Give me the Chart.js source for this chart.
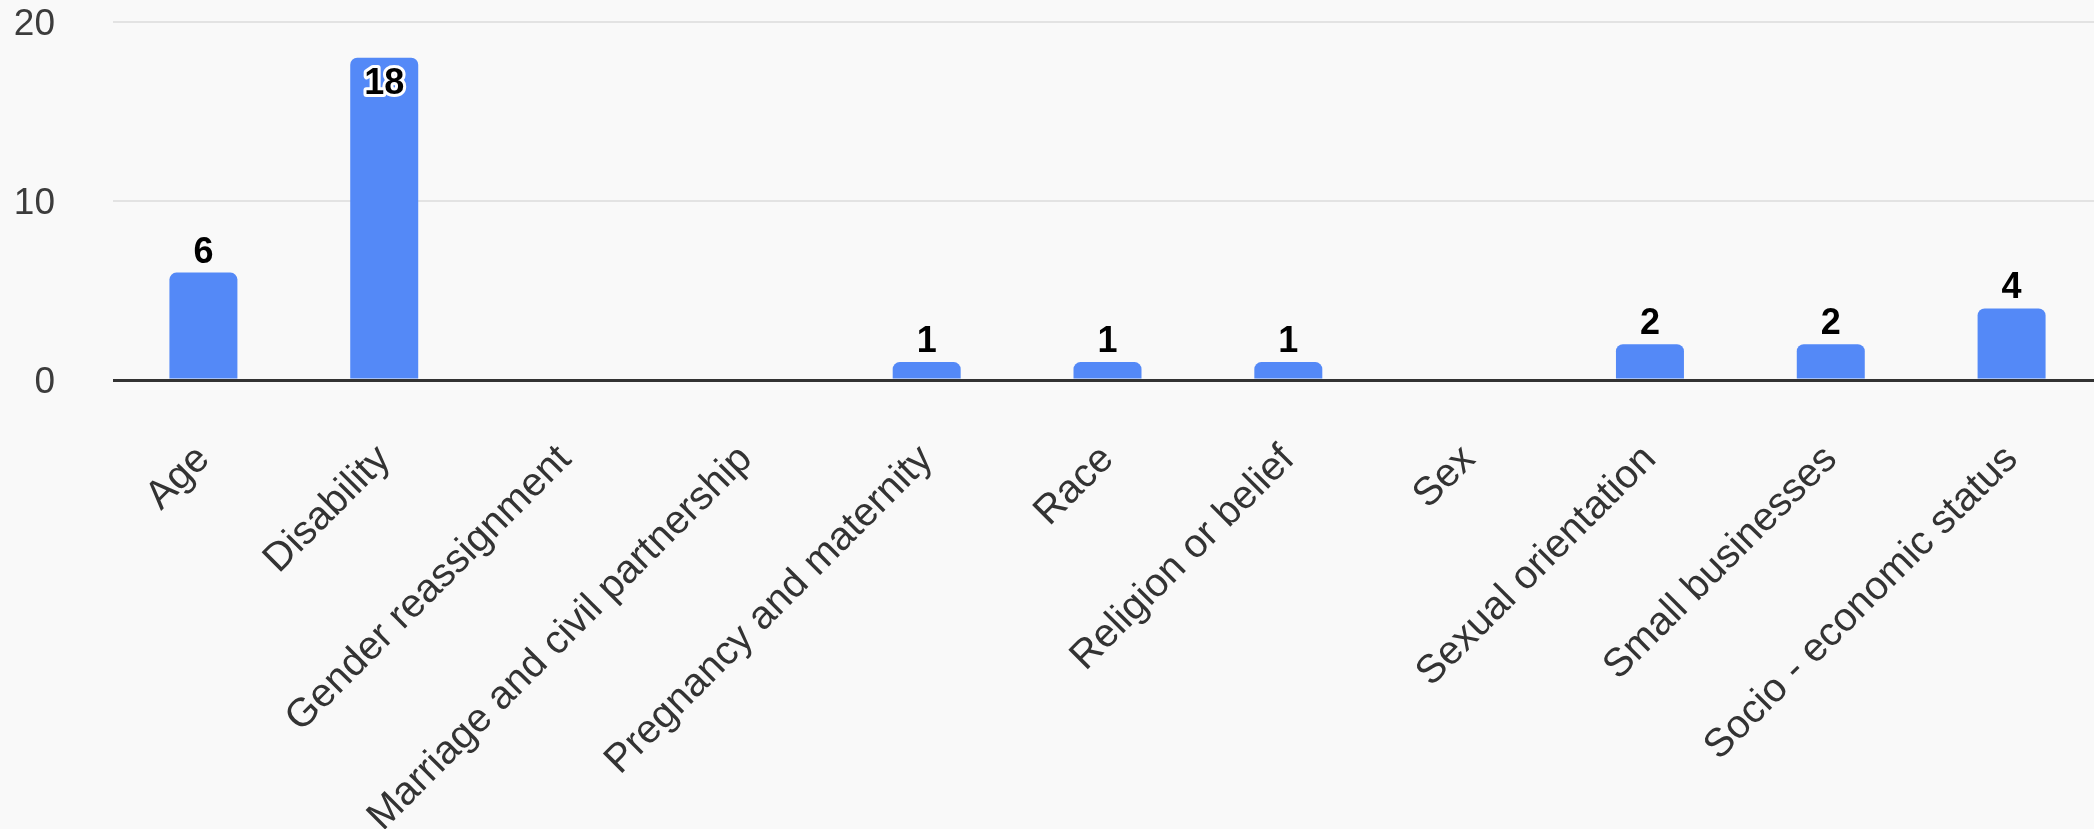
<!DOCTYPE html>
<html>
<head>
<meta charset="utf-8">
<script src="https://cdn.jsdelivr.net/npm/chart.js@4/dist/chart.umd.min.js"></script>
<style>
  html, body { margin: 0; padding: 0; background: #f9f9f9; overflow: hidden; }
  #wrap { position: relative; width: 2102px; height: 829px; }
</style>
</head>
<body>
<div id="wrap"><canvas id="c"></canvas></div>
<script>
const categories = [
  "Age", "Disability", "Gender reassignment", "Marriage and civil partnership",
  "Pregnancy and maternity", "Race", "Religion or belief", "Sex",
  "Sexual orientation", "Small businesses", "Socio - economic status"
];
const counts = [6, 18, 0, 0, 1, 1, 1, 0, 2, 2, 4];
const yTicks = [0, 10, 20];

const FONT = "Arial, 'Liberation Sans', sans-serif";

const valueLabels = {
  id: 'valueLabels',
  afterDatasetsDraw(chart) {
    const ctx = chart.ctx;
    const meta = chart.getDatasetMeta(0);
    const ds = chart.data.datasets[0].data;
    const yMax = chart.scales.y.max;
    ctx.save();
    ctx.font = "bold 36px " + FONT;
    ctx.textAlign = 'center';
    meta.data.forEach((bar, i) => {
      const v = ds[i];
      if (!v) return;
      const text = String(v);
      if (v / yMax > 0.8) {
        ctx.textBaseline = 'top';
        ctx.lineJoin = 'round';
        ctx.lineWidth = 6;
        ctx.strokeStyle = '#ffffff';
        ctx.strokeText(text, bar.x, bar.y + 8);
        ctx.fillStyle = '#000000';
        ctx.fillText(text, bar.x, bar.y + 8);
      } else {
        ctx.textBaseline = 'alphabetic';
        ctx.fillStyle = '#000000';
        ctx.fillText(text, bar.x, bar.y - 10);
      }
    });
    ctx.restore();
  }
};

new Chart(document.getElementById('c'), {
  type: 'bar',
  data: {
    labels: categories,
    datasets: [{
      data: counts,
      backgroundColor: '#5489f7',
      borderWidth: 0,
      borderRadius: 7,
      borderSkipped: 'start',
      categoryPercentage: 1.0,
      barPercentage: 0.376
    }]
  },
  options: {
    responsive: true,
    maintainAspectRatio: false,
    animation: false,
    events: [],
    layout: { padding: { top: 22, right: 0, bottom: 0, left: 0 } },
    plugins: {
      legend: { display: false },
      tooltip: { enabled: false },
      title: { display: false }
    },
    scales: {
      x: {
        grid: { display: false, drawTicks: false },
        border: { display: false },
        ticks: {
          autoSkip: false,
          maxRotation: 45,
          minRotation: 45,
          padding: 56,
          color: '#333333',
          font: { family: FONT, size: 40 }
        },
        afterFit(scale) { scale.height = 829 - 380; }
      },
      y: {
        min: 0,
        max: 20,
        afterBuildTicks(scale) { scale.ticks = yTicks.map(v => ({ value: v })); },
        grid: {
          drawTicks: false,
          color: ctx => (ctx.tick && ctx.tick.value === 0) ? '#333333' : '#e3e3e3',
          lineWidth: ctx => (ctx.tick && ctx.tick.value === 0) ? 3 : 2
        },
        border: { display: false },
        ticks: {
          padding: 58,
          labelOffset: 3,
          color: '#3c3c3c',
          font: { family: FONT, size: 37 }
        },
        afterFit(scale) {
          scale.width = 113;
          scale.paddingTop = 0;
          scale.paddingBottom = 0;
        }
      }
    }
  },
  plugins: [valueLabels]
});
</script>
</body>
</html>
